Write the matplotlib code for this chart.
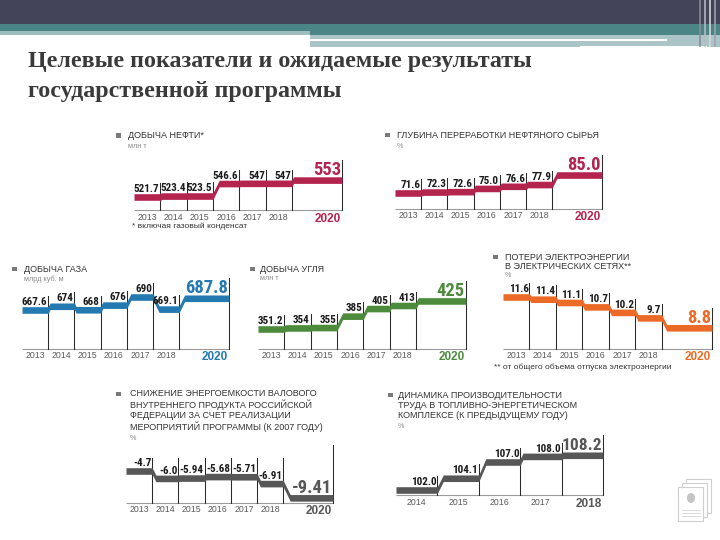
import numpy as np
import matplotlib
matplotlib.use('Agg')
import matplotlib.pyplot as plt
from matplotlib import font_manager as fm
from matplotlib.patches import Rectangle, Ellipse

# ---------------- data ----------------
title_lines = ["Целевые показатели и ожидаемые результаты", "государственной программы"]

oil_title = ["ДОБЫЧА НЕФТИ*"]
oil_unit = "млн т"
oil_years = ["2013", "2014", "2015", "2016", "2017", "2018", "2020"]
oil_values = [521.7, 523.4, 523.5, 546.6, 547, 547, 553]
oil_labels = ["521.7", "523.4", "523.5", "546.6", "547", "547", "553"]
oil_note = "* включая газовый конденсат"

ref_title = ["ГЛУБИНА ПЕРЕРАБОТКИ НЕФТЯНОГО СЫРЬЯ"]
ref_unit = "%"
ref_years = ["2013", "2014", "2015", "2016", "2017", "2018", "2020"]
ref_values = [71.6, 72.3, 72.6, 75.0, 76.6, 77.9, 85.0]
ref_labels = ["71.6", "72.3", "72.6", "75.0", "76.6", "77.9", "85.0"]

gas_title = ["ДОБЫЧА ГАЗА"]
gas_unit = "млрд куб. м"
gas_years = ["2013", "2014", "2015", "2016", "2017", "2018", "2020"]
gas_values = [667.6, 674, 668, 676, 690, 669.1, 687.8]
gas_labels = ["667.6", "674", "668", "676", "690", "669.1", "687.8"]

coal_title = ["ДОБЫЧА УГЛЯ"]
coal_unit = "млн т"
coal_years = ["2013", "2014", "2015", "2016", "2017", "2018", "2020"]
coal_values = [351.2, 354, 355, 385, 405, 413, 425]
coal_labels = ["351.2", "354", "355", "385", "405", "413", "425"]

loss_title = ["ПОТЕРИ ЭЛЕКТРОЭНЕРГИИ", "В ЭЛЕКТРИЧЕСКИХ СЕТЯХ**"]
loss_unit = "%"
loss_years = ["2013", "2014", "2015", "2016", "2017", "2018", "2020"]
loss_values = [11.6, 11.4, 11.1, 10.7, 10.2, 9.7, 8.8]
loss_labels = ["11.6", "11.4", "11.1", "10.7", "10.2", "9.7", "8.8"]
loss_note = "** от общего объема отпуска электроэнергии"

ei_title = ["СНИЖЕНИЕ ЭНЕРГОЕМКОСТИ ВАЛОВОГО", "ВНУТРЕННЕГО ПРОДУКТА РОССИЙСКОЙ",
            "ФЕДЕРАЦИИ ЗА СЧЕТ РЕАЛИЗАЦИИ", "МЕРОПРИЯТИЙ ПРОГРАММЫ (К 2007 ГОДУ)"]
ei_unit = "%"
ei_years = ["2013", "2014", "2015", "2016", "2017", "2018", "2020"]
ei_values = [-4.7, -6.0, -5.94, -5.68, -5.71, -6.91, -9.41]
ei_labels = ["-4.7", "-6.0", "-5.94", "-5.68", "-5.71", "-6.91", "-9.41"]

pr_title = ["ДИНАМИКА ПРОИЗВОДИТЕЛЬНОСТИ", "ТРУДА В ТОПЛИВНО-ЭНЕРГЕТИЧЕСКОМ",
            "КОМПЛЕКСЕ (К ПРЕДЫДУЩЕМУ ГОДУ)"]
pr_unit = "%"
pr_years = ["2014", "2015", "2016", "2017", "2018"]
pr_values = [102.0, 104.1, 107.0, 108.0, 108.2]
pr_labels = ["102.0", "104.1", "107.0", "108.0", "108.2"]

# ---------------- fonts ----------------
_names = {f.name for f in fm.fontManager.ttflist}
def pick(cands):
    for c in cands:
        if c in _names:
            return c
    return 'DejaVu Sans'
NARROW = pick(['Liberation Sans Narrow', 'Roboto Condensed', 'Liberation Sans'])
SANS = pick(['Liberation Sans', 'Arial', 'DejaVu Sans'])
SERIF = pick(['Liberation Serif', 'DejaVu Serif'])

W, H = 720, 540
fig = plt.figure(figsize=(7.2, 5.4), dpi=100)
fig.patch.set_facecolor('white')
bg = fig.add_axes([0, 0, 1, 1])
bg.set_xlim(0, W)
bg.set_ylim(H, 0)
bg.axis('off')

def rect(x, y, w, h, c, **kw):
    bg.add_patch(Rectangle((x, y), w, h, facecolor=c, edgecolor='none', **kw))

# header
rect(0, 0, W, 24, '#43445a')
rect(0, 24, W, 7, '#4b8585')
rect(0, 31, 310, 4, '#9dbdbd')
rect(310, 31, W - 310, 4, '#4b8585')
rect(310, 35, W - 310, 12, '#aac4c7')
rect(310, 38.5, 357, 2, 'white')
rect(580, 46, 127, 4, 'white')
for xx, c in [(699, '#8b8c99'), (704, '#b9bcc4'), (709, '#d6d8dd'), (714, '#a0a3ae')]:
    rect(xx, 0, 2, 47, c, alpha=0.8)

# title
for i, t in enumerate(title_lines):
    bg.text(28, 62 + 29.5 * i, t, fontsize=17.3, fontweight='bold', family=SERIF,
            color='#3a3a3a', va='center', ha='left')

def header(x_sq, x_txt, ys, lines, unit, unit_y):
    rect(x_sq, ys[0] - 2.2, 4.5, 4.5, '#7a7a7a')
    for y, t in zip(ys, lines):
        bg.text(x_txt, y, t, fontsize=6.45, family=SANS, color='#333333', va='center', ha='left')
    bg.text(x_txt, unit_y, unit, fontsize=5.2, family=SANS, color='#8a8a8a', va='center', ha='left')

def panel(years, values, labels, color, x0, x1, yb, vref, pref, k, last_w,
          fixed_top=None, end_top=None, big=13.3):
    n = len(values)
    widths = [1.0] * (n - 1) + [last_w]
    total = sum(widths)
    ytop = yb - 80
    ax = fig.add_axes([x0 / W, (H - yb) / H, (x1 - x0) / W, (yb - ytop) / H])
    ax.set_xlim(0, total)
    ylo = vref - (yb - pref) / k
    yhi = vref + (pref - ytop) / k
    ax.set_ylim(ylo, yhi)
    ax.axis('off')
    seg_px = (x1 - x0) / total
    edges = np.concatenate([[0.0], np.cumsum(widths)])
    px = lambda p: p / k  # pixel offset -> data units (y)
    half = 3.3
    # band path
    xs = [0.0]
    ys = [values[0]]
    for i in range(1, n):
        dv_px = abs(values[i] - values[i - 1]) * k
        t = np.clip(0.5 * dv_px, 1.5, 7) / seg_px
        xs += [edges[i], edges[i] + t]
        ys += [values[i - 1], values[i]]
    xs.append(total)
    ys.append(values[-1])
    xs = np.array(xs); ys = np.array(ys)
    # baseline
    ax.plot([0, total], [ylo, ylo], color='#9a9a9a', lw=0.8, clip_on=False,
            solid_capstyle='butt')
    # vertical lines
    for i in range(1, n):
        top = values[i - 1] + px(half + 10.5)
        if fixed_top is not None:
            top = vref + (pref - fixed_top) / k
        ax.plot([edges[i], edges[i]], [ylo, top], color='#2a2a2a', lw=0.75, clip_on=False)
    etop = values[-1] + px(half + 16.5)
    if end_top is not None:
        etop = vref + (pref - end_top) / k
    ax.plot([total, total], [ylo, etop], color='#2a2a2a', lw=0.75, clip_on=False)
    # band
    ax.fill_between(xs, ys - px(half), ys + px(half), color=color, lw=0, clip_on=False,
                    zorder=3)
    # value labels
    for i in range(n - 1):
        ax.text(edges[i + 1] - 0.8 / seg_px, values[i] + px(half + 1.5), labels[i],
                ha='right', va='baseline', fontsize=8, fontweight='bold', family=NARROW,
                color='#1c1c1c', clip_on=False, zorder=4)
    ax.text(total - 1.2 / seg_px, values[-1] + px(half + 1.5), labels[-1],
            ha='right', va='baseline', fontsize=big, fontweight='bold', family=NARROW,
            color=color, clip_on=False, zorder=4)
    # year labels
    for i in range(n - 1):
        ax.text((edges[i] + edges[i + 1]) / 2, ylo - px(2.5), years[i], ha='center',
                va='top', fontsize=6.3, family=SANS, color='#5a5a5a', clip_on=False)
    ax.text(total - 1 / seg_px, ylo - px(2.5), years[-1], ha='right', va='top',
            fontsize=8.5, fontweight='bold', family=SANS, color=color, clip_on=False)
    return ax

CRIMSON = '#b3244f'
BLUE = '#2479b1'
GREEN = '#4d8b3c'
ORANGE = '#ec6a27'
DARK = '#575757'

# Panel 1: oil
header(116, 128, [135.5], oil_title, oil_unit, 146.5)
panel(oil_years, oil_values, oil_labels, CRIMSON, 134, 342, 210, 521.7, 197, 0.54, 1.9)
bg.text(132, 226, oil_note, fontsize=6, family=SANS, color='#333333', va='center')

# Panel 2: refining depth
header(385, 397, [135], ref_title, ref_unit, 147)
panel(ref_years, ref_values, ref_labels, CRIMSON, 395, 602, 209, 71.6, 193, 1.34, 1.9)

# Panel 3: gas
header(12, 24, [269], gas_title, gas_unit, 279)
panel(gas_years, gas_values, gas_labels, BLUE, 22, 229, 349, 667.6, 310, 0.58, 1.9)

# Panel 4: coal
header(250, 260, [269], coal_title, coal_unit, 279)
panel(coal_years, coal_values, coal_labels, GREEN, 258, 466, 349, 351.2, 329, 0.38, 1.9)

# Panel 5: electricity losses
header(493, 505, [257, 266.5], loss_title, loss_unit, 275.5)
panel(loss_years, loss_values, loss_labels, ORANGE, 503, 712, 349, 11.6, 297, 11.0, 1.9)
bg.text(494, 367, loss_note, fontsize=6, family=SANS, color='#333333', va='center')

# Panel 6: energy intensity
header(116, 130, [394, 405, 416, 427], ei_title, ei_unit, 439)
panel(ei_years, ei_values, ei_labels, DARK, 126, 333, 503, -4.7, 471, 5.7, 1.9,
      fixed_top=458, end_top=445)

# Panel 7: labour productivity
header(388, 398, [395, 405.5, 416], pr_title, pr_unit, 427)
panel(pr_years, pr_values, pr_labels, DARK, 396, 603, 495, 102.0, 490, 5.6, 1.0, big=12.5)

# emblem document icon (bottom right)
for dx, dy in [(8, -8), (4, -4), (0, 0)]:
    bg.add_patch(Rectangle((678 + dx, 487 + dy), 25, 34, facecolor='white',
                           edgecolor='#cfcfcf', lw=0.8))
bg.add_patch(Ellipse((691, 498), 8, 10, facecolor='#c4c4c4', edgecolor='none'))
for yy in [510, 513, 516]:
    bg.plot([682, 700], [yy, yy], color='#d5d5d5', lw=0.6)

fig.savefig('out.png', dpi=100, facecolor='white')
